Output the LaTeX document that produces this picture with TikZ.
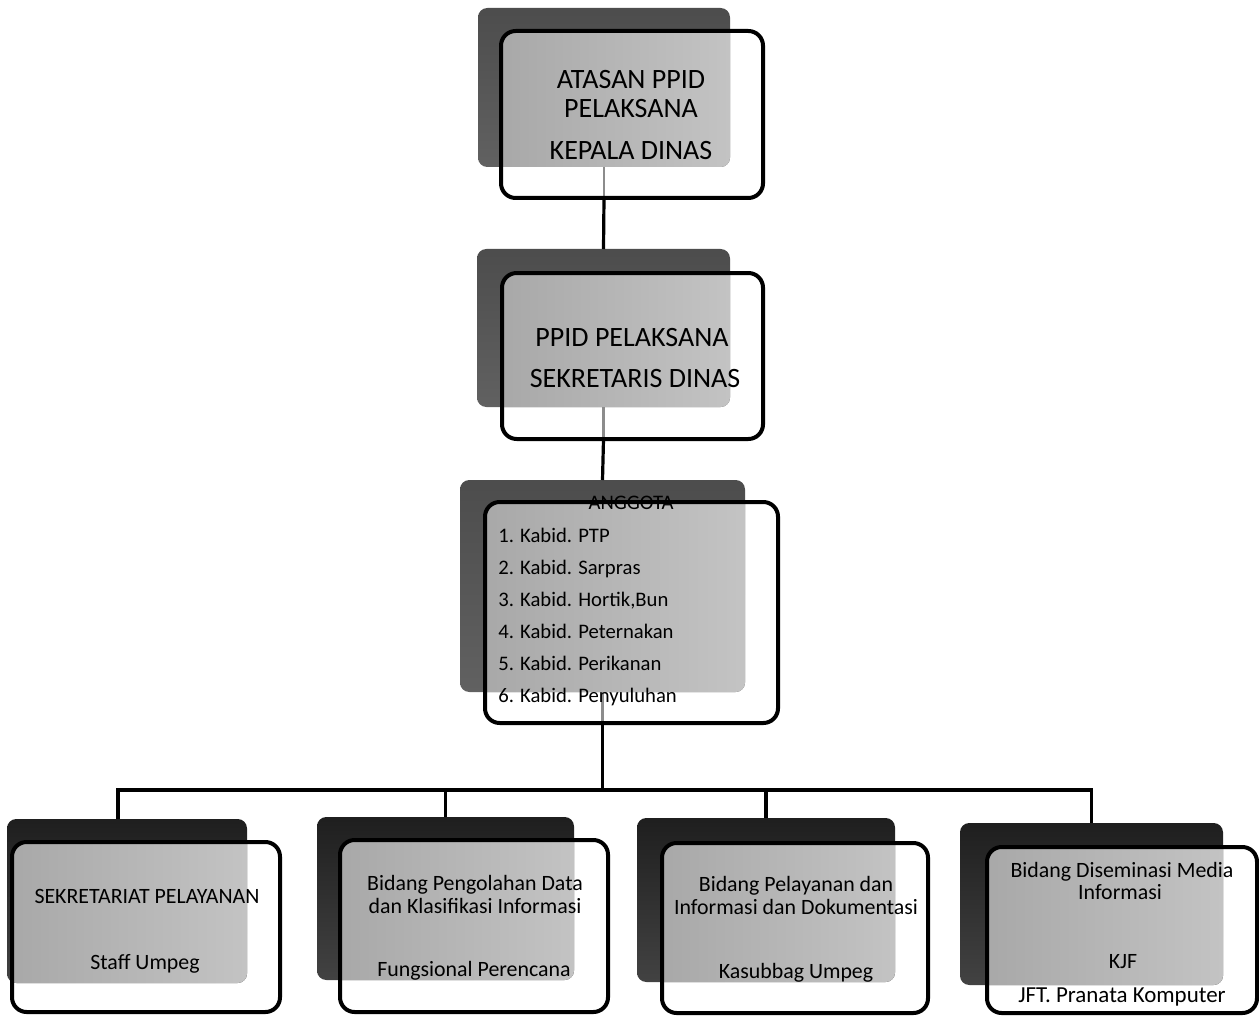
\documentclass[tikz,border=0pt]{standalone}
\usepackage{fontspec}
\setmainfont{Carlito}
\usetikzlibrary{fit}
\tikzset{
  x=0.75pt, y=-0.75pt,
  backtop/.style={top color=black!70, bottom color=black!62},
  backlow/.style={top color=black!88, bottom color=black!74},
  overlapfill/.style={left color=black!34, right color=black!22},
  frontline/.style={draw=black, line width=3pt, rounded corners=11pt},
  conn/.style={draw=black, line width=2.4pt},
  connfaint/.style={draw=black!45, line width=1.6pt},
  bigtxt/.style={font=\fontsize{21}{25}\selectfont, anchor=base, inner sep=0pt},
  midtxt/.style={font=\fontsize{16.4}{19}\selectfont, anchor=base, inner sep=0pt},
  headtxt/.style={font=\fontsize{15.5}{18}\selectfont, anchor=base, inner sep=0pt},
  listtxt/.style={font=\fontsize{15.5}{18}\selectfont, anchor=base west, inner sep=0pt},
}
% #1 name, #2 back nw, #3 back se, #4 front nw, #5 front se, #6 back style
\newcommand\orgbox[6]{%
  \node[fit={#2 #3}, inner sep=0pt, outer sep=0pt] (#1b) {};
  \node[fit={#4 #5}, inner sep=0pt, outer sep=0pt] (#1) {};
  \shade[#6, rounded corners=7pt] (#1b.north west) rectangle (#1b.south east);
  \begin{scope}
    \clip[rounded corners=7pt] (#1b.north west) rectangle (#1b.south east);
    \shade[overlapfill, rounded corners=11pt] (#1.north west) rectangle (#1.south east);
  \end{scope}
}
\begin{document}
\begin{tikzpicture}
\useasboundingbox[fill=white] (0,0) rectangle (1259,1016);

% boxes (back + overlap)
\orgbox{B1}{(478,8)}{(730,167)}{(501,31)}{(763,198)}{backtop}
\orgbox{B2}{(477,249)}{(730,407)}{(502,273)}{(763,439)}{backtop}
\orgbox{B3}{(460,480)}{(745,692)}{(485,502)}{(778,723)}{backtop}
\orgbox{B4}{(7,819)}{(247,983)}{(12,842)}{(280,1012)}{backlow}
\orgbox{B5}{(317,817)}{(574,980)}{(340,840)}{(608,1012)}{backlow}
\orgbox{B6}{(637,818)}{(895,982)}{(662,843)}{(928,1013)}{backlow}
\orgbox{B7}{(960,823)}{(1223,985)}{(987,847)}{(1257,1013)}{backlow}

% connectors
\coordinate (bus) at (603,790);
\coordinate (d4) at (118,819);
\path[connfaint] (B1b.south) -- (B1b.south |- B1.south);
\path[conn] (B1b.south |- B1.south) -- (B2b.north);
\path[connfaint] (B2b.south) -- (B2b.south |- B2.south);
\path[conn] (B2b.south |- B2.south) -- (B3b.north);
\path[connfaint] (B3b.south) -- (B3b.south |- B3.south);
\path[conn] (B3b.south |- B3.south) -- (B3b.south |- bus);
\path[conn] (d4) -- (d4 |- bus) -- (B7b.north |- bus) -- (B7b.north);
\path[conn] (B5b.north |- bus) -- (B5b.north);
\path[conn] (B6b.north |- bus) -- (B6b.north);

% front outlines
\foreach \n in {B1,B2,B3,B4,B5,B6,B7}
  \draw[frontline] (\n.north west) rectangle (\n.south east);

% texts
\node[bigtxt] (t1a) at (631,89) {ATASAN PPID};
\node[bigtxt] (t1b) at (631,118) {PELAKSANA};
\node[bigtxt] (t1c) at (631,160) {KEPALA DINAS};

\node[bigtxt] (t2a) at (632,346) {PPID PELAKSANA};
\node[bigtxt] (t2b) at (635,387) {SEKRETARIS DINAS};

\node[headtxt] (t3h) at (631,509) {ANGGOTA};
\node[listtxt] (t3a) at (498,542) {1. Kabid. PTP};
\node[listtxt] (t3b) at (498,574) {2. Kabid. Sarpras};
\node[listtxt] (t3c) at (498,606) {3. Kabid. Hortik,Bun};
\node[listtxt] (t3d) at (498,638) {4. Kabid. Peternakan};
\node[listtxt] (t3e) at (498,670) {5. Kabid. Perikanan};
\node[listtxt] (t3f) at (498,702) {6. Kabid. Penyuluhan};

\node[midtxt] (t4a) at (147,903) {SEKRETARIAT PELAYANAN};
\node[midtxt] (t4b) at (145,969) {Staff Umpeg};

\node[midtxt] (t5a) at (475,890) {Bidang Pengolahan Data};
\node[midtxt] (t5b) at (475,913) {dan Klasifikasi Informasi};
\node[midtxt] (t5c) at (474,976) {Fungsional Perencana};

\node[midtxt] (t6a) at (796,891) {Bidang Pelayanan dan};
\node[midtxt] (t6b) at (796,914) {Informasi dan Dokumentasi};
\node[midtxt] (t6c) at (796,978) {Kasubbag Umpeg};

\node[midtxt] (t7a) at (1122,877) {Bidang Diseminasi Media};
\node[midtxt] (t7b) at (1120,899) {Informasi};
\node[midtxt] (t7c) at (1123,968) {KJF};
\node[midtxt, font=\fontsize{17.2}{20}\selectfont] (t7d) at (1122,1002) {JFT. Pranata Komputer};
\end{tikzpicture}
\end{document}
